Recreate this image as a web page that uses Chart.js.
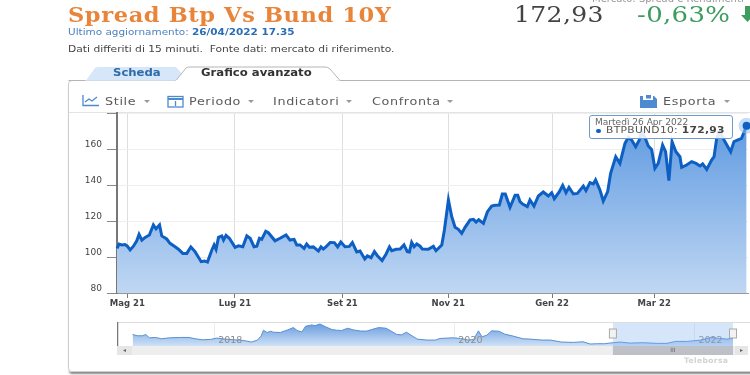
<!DOCTYPE html>
<html lang="it">
<head>
<meta charset="utf-8">
<title>Spread Btp Vs Bund 10Y</title>
<script src="https://cdn.jsdelivr.net/npm/chart.js@4"></script>
<style>
  html, body { margin: 0; padding: 0; background: #fff; }
  #page { position: relative; width: 750px; height: 375px; overflow: hidden; font-family: "DejaVu Sans", sans-serif; filter: blur(0.35px); }
  #page div, #page svg, #page canvas { position: absolute; }
  .t { white-space: nowrap; transform-origin: left center; }
  .tool { top: 95px; font-size: 11px; line-height: 13px; letter-spacing: 0.55px; color: #5a5a5a; transform: scaleX(1.16); }
  .caret { top: 100px; width: 0; height: 0; border-left: 3.5px solid transparent; border-right: 3.5px solid transparent; border-top: 3.5px solid #999; }
</style>
</head>
<body>
<div id="page">
  <div class="t" style="left:68px;top:2px;font:bold 20px/26px 'DejaVu Serif',serif;letter-spacing:0.55px;color:#e8853b;transform:scaleX(1.125)">Spread Btp Vs Bund 10Y</div>
  <div class="t" style="left:68px;top:27px;font-size:9px;line-height:11px;color:#4d82bd;transform:scaleX(1.16)">Ultimo aggiornamento: <b style="color:#2a6db5">26/04/2022 17.35</b></div>
  <div class="t" style="left:68px;top:44px;font-size:9px;line-height:11px;color:#444;transform:scaleX(1.19)">Dati differiti di 15 minuti.&nbsp; Fonte dati: mercato di riferimento.</div>
  <div class="t" style="left:592px;top:-7px;font-size:10px;line-height:12px;color:#999">Mercato: Spread e Rendimenti</div>
  <div class="t" style="left:514px;top:1px;font:22px/28px 'DejaVu Serif',serif;letter-spacing:0.3px;color:#444;transform:scaleX(1.14)">172,93</div>
  <div class="t" style="left:637px;top:1px;font:22px/28px 'DejaVu Serif',serif;letter-spacing:0.3px;color:#3f9c5f;transform:scaleX(1.18)">-0,63%</div>
  <svg style="left:743px;top:6px;overflow:visible" width="12" height="17"><path d="M2 0h5v9h4l-6.5 7L-2 9h4z" fill="#3f9c5f"/></svg>

  <!-- panel and tabs -->
  <div style="left:68px;top:80px;width:700px;height:292px;box-sizing:border-box;border:1px solid #cfcfcf;border-radius:4px;box-shadow:0 3px 2px -1px #8a8a8a"></div>
  <svg style="left:68px;top:64px" width="682" height="18">
    <path d="M18 16.5 L27 4 Q28 3 31 3 L108 3 L120 16.5 Z" fill="#d6e7f9"/>
    <path d="M0.5 16.5 H17 M108 16.5 L118 4 Q119 3 122 3 L257 3 Q260 3 262 5 L272 16.5 H682" fill="#fff" stroke="#b5b5b5"/>
    <rect x="108" y="16" width="160" height="2" fill="#fff"/>
  </svg>
  <div class="t" style="left:113px;top:67px;font-size:9.8px;line-height:12px;font-weight:bold;color:#2d6aa8;transform:scaleX(1.19)">Scheda</div>
  <div class="t" style="left:201px;top:67px;font-size:9.8px;line-height:12px;font-weight:bold;color:#333;transform:scaleX(1.19)">Grafico avanzato</div>

  <!-- toolbar -->
  <svg style="left:82px;top:94px" width="18" height="13" fill="none" stroke="#4d8ad0" stroke-width="1.3"><path d="M1 1v10.5h16M3 8l4-3 3 2 5-4"/></svg>
  <div class="t tool" style="left:105px">Stile</div><div class="caret" style="left:144px"></div>
  <svg style="left:167px;top:94px" width="18" height="14" fill="none" stroke="#4d8ad0" stroke-width="1.3"><rect x="1" y="2.5" width="15" height="10.5"/><path d="M1 5h15" stroke-width="2"/><path d="M8.5 7v5"/></svg>
  <div class="t tool" style="left:189px">Periodo</div><div class="caret" style="left:248px"></div>
  <div class="t tool" style="left:273px">Indicatori</div><div class="caret" style="left:346px"></div>
  <div class="t tool" style="left:372px">Confronta</div><div class="caret" style="left:447px"></div>
  <svg style="left:640px;top:95px" width="17" height="13"><path d="M0 1h3v4h10V1h1l3 3v9H0z" fill="#4d8ad0"/><rect x="6" y="0" width="5" height="3.5" fill="#4d8ad0"/></svg>
  <div class="t tool" style="left:663px">Esporta</div><div class="caret" style="left:724px"></div>
  <div style="left:69px;top:112px;width:681px;height:1px;background:#e4e4e4"></div>

  <canvas id="mainChart" width="750" height="320" style="left:0;top:0"></canvas>
  <canvas id="navChart" width="633" height="37" style="left:117px;top:320px"></canvas>

  <!-- tooltip of the last point -->
  <div style="left:589px;top:115px;width:142px;height:22px;border:1px solid #6c9bd0;border-radius:3px;background:rgba(255,255,255,0.88)"></div>
  <div class="t" style="left:595px;top:117px;font-size:8.3px;line-height:10px;color:#666;transform:scaleX(1.09)">Martedì 26 Apr 2022</div>
  <div style="left:596px;top:129px;width:5px;height:4px;border-radius:3px;background:#0d5fc4"></div>
  <div class="t" style="left:606px;top:125px;font-size:9px;line-height:11px;letter-spacing:0.25px;color:#555;transform:scaleX(1.19)">BTPBUND10: <b style="color:#444">172,93</b></div>

  <div class="t" style="left:684px;top:356px;font-size:7.6px;line-height:10px;font-weight:bold;letter-spacing:0.35px;color:#d2d2d2">Teleborsa</div>
</div>

<script>
// Main chart: days from 1 May 2021 and spread in basis points
const days = [-5.9, -4.7, -3.2, -1.3, 0, 1.6, 3.5, 5.4, 6.7, 8.3, 10.2, 12.6, 14.9, 16.4, 18.4, 19.7, 22.5, 24.4, 27.3, 29.2, 31.7, 34, 36.3, 38.7, 42.2, 44.1, 45.8, 48.3, 49.6, 50.7, 52.1, 54, 55, 56.4, 58.3, 61.6, 63.5, 66, 68.3, 70.2, 72.4, 74, 75.5, 76.8, 79.1, 80.6, 84.4, 87.3, 90.7, 93, 95.3, 96.8, 98.7, 101, 102.5, 104, 106.3, 109.2, 110.7, 112, 113.6, 115.9, 118.3, 120.2, 122, 124.4, 126.9, 128.6, 131.1, 133, 135.7, 137.2, 139.3, 141.2, 142.9, 145.6, 147.9, 149.8, 151.1, 153.6, 155.9, 158.1, 160, 161.2, 162.5, 163.9, 165.4, 167.3, 168.6, 172, 174.9, 176.4, 179.7, 181.2, 183.5, 185.4, 187.3, 189.2, 191.1, 193, 195.9, 197.8, 199.3, 200.8, 203.5, 205.8, 208.2, 210.1, 212.6, 214.3, 216, 218.7, 221.6, 223.1, 224.4, 225.9, 228.6, 230.1, 232.4, 234.9, 237.7, 240.6, 242.5, 244, 246.9, 248.8, 250.7, 252.4, 254.9, 257.2, 260.6, 262.1, 264.4, 266.3, 267.6, 270.1, 272, 274.5, 276.2, 279.1, 281.5, 284.4, 286.3, 288.2, 290.5, 292.6, 293.9, 296.4, 297.7, 299.6, 301.5, 303.4, 305.9, 307.6, 309.5, 311.3, 313.5, 315.8, 316.8, 319.6, 322.5, 325, 327.3, 328.8, 331.1, 333.9, 335.3, 336.8, 338.7, 341, 344.8, 346.7, 351, 353.9];
const spread = [104.8, 107.2, 106.7, 106.9, 106, 103.9, 106, 109, 112.6, 109.4, 110.9, 112.2, 117.8, 115.7, 117.8, 111.7, 110, 107.6, 105.7, 104.3, 102, 102, 105.6, 103, 97.4, 97.8, 97.2, 103.9, 106.7, 104.3, 110.9, 111.7, 109.4, 112, 110.4, 105.4, 106.2, 105.7, 111.7, 110.4, 105.7, 106, 110.4, 109.8, 114.3, 113.5, 109, 110.4, 112.2, 109.4, 109.8, 106.7, 106.7, 104.8, 107.2, 105.4, 105.6, 103.3, 105.6, 104.4, 105.7, 108.1, 108, 105.6, 108.3, 105.7, 105.9, 108, 102.8, 103.3, 98.9, 100.6, 99.6, 103, 100.7, 98, 101.7, 105.6, 103.5, 104.3, 104.4, 106.7, 103, 102.8, 108.1, 105.7, 107.2, 106, 104.4, 104.3, 105.9, 103.5, 106.7, 115, 131.7, 122.4, 116.5, 115.4, 113.1, 116.5, 120.6, 120.9, 119.4, 120.7, 118.7, 125.2, 128.3, 128.7, 128.9, 135, 135, 127.6, 134.3, 134.3, 130.7, 129.4, 128, 131.7, 128.3, 133.9, 136.1, 133.9, 135.7, 132.4, 136.3, 139.8, 135.7, 138.7, 135, 135.3, 139.4, 136.9, 141.3, 140.6, 142.8, 137.2, 131.1, 136.3, 146.5, 155.7, 152, 163.1, 166.5, 165, 161.3, 165, 170.2, 165, 161.7, 159.8, 149.3, 152, 162.2, 158.5, 142.4, 164.1, 158.5, 155.7, 149.8, 151.1, 153, 152, 150.6, 151.7, 148.7, 153.9, 155.7, 165.9, 169.6, 165, 158.5, 164.1, 165.9, 172.93];
const xTickDays = [0, 61.5, 122.9, 183.4, 242.7, 301.1];
const xTickLabels = ["Mag 21", "Lug 21", "Set 21", "Nov 21", "Gen 22", "Mar 22"];
const yTicks = [80, 100, 120, 140, 160, 180];

// Navigator: decimal years and spread on the long range
const navYears = [2017.32, 2017.36, 2017.40, 2017.43, 2017.46, 2017.51, 2017.56, 2017.63, 2017.72, 2017.79, 2017.84, 2017.90, 2017.97, 2018.02, 2018.09, 2018.16, 2018.22, 2018.27, 2018.31, 2018.36, 2018.39, 2018.41, 2018.44, 2018.47, 2018.49, 2018.55, 2018.61, 2018.66, 2018.69, 2018.73, 2018.76, 2018.81, 2018.84, 2018.88, 2018.93, 2018.98, 2019.02, 2019.06, 2019.11, 2019.16, 2019.22, 2019.27, 2019.31, 2019.37, 2019.43, 2019.47, 2019.52, 2019.56, 2019.60, 2019.63, 2019.69, 2019.77, 2019.84, 2019.88, 2019.99, 2020.05, 2020.12, 2020.16, 2020.20, 2020.23, 2020.27, 2020.31, 2020.37, 2020.42, 2020.49, 2020.57, 2020.63, 2020.73, 2020.80, 2020.89, 2020.99, 2021.07, 2021.13, 2021.19, 2021.25, 2021.32, 2021.38, 2021.46, 2021.57, 2021.69, 2021.77, 2021.84, 2021.94, 2022.05, 2022.14, 2022.21, 2022.27, 2022.32];
const navSpread = [231, 210, 210, 231, 176, 182, 160, 176, 182, 182, 160, 143, 149, 171, 154, 143, 138, 121, 105, 138, 204, 303, 264, 286, 270, 264, 308, 347, 297, 275, 369, 391, 380, 407, 358, 314, 303, 297, 336, 308, 289, 289, 314, 347, 336, 292, 231, 226, 270, 231, 154, 138, 138, 165, 176, 165, 138, 149, 292, 193, 220, 292, 286, 237, 204, 160, 154, 138, 138, 105, 99, 110, 72, 77, 77, 94, 105, 88, 94, 83, 83, 116, 116, 138, 182, 165, 154, 171];
const navTicks = [2018, 2020, 2022];
const navSelection = [2021.32, 2022.32];

const lastIndex = days.length - 1;

const mainChart = new Chart(document.getElementById("mainChart"), {
  type: "line",
  data: {
    datasets: [{
      // end point dot, on top of the halo of the line below
      data: [{ x: days[lastIndex], y: spread[lastIndex] }],
      showLine: false,
      clip: false,
      pointRadius: 4,
      pointBorderWidth: 0,
      pointBackgroundColor: "#0d5fc4"
    }, {
      label: "BTPBUND10",
      data: days.map((d, i) => ({ x: d, y: spread[i] })),
      borderColor: "#0d5fc4",
      borderWidth: 3,
      tension: 0,
      clip: false,
      fill: "start",
      backgroundColor: (ctx) => {
        const area = ctx.chart.chartArea;
        if (!area) return "#8fb6e8";
        const g = ctx.chart.ctx.createLinearGradient(0, area.top, 0, area.bottom);
        g.addColorStop(0, "#5a97e0");
        g.addColorStop(1, "#c0d7f3");
        return g;
      },
      pointRadius: (ctx) => ctx.dataIndex === lastIndex ? 8 : 0,
      pointBackgroundColor: "rgba(150,195,240,0.55)",
      pointBorderWidth: 0
    }]
  },
  options: {
    responsive: false,
    animation: false,
    events: [],
    // no room kept for the end point, it may run over the plot edge
    layout: { autoPadding: false, padding: { top: 113, right: 2 } },
    plugins: { legend: { display: false }, tooltip: { enabled: false } },
    scales: {
      x: {
        type: "linear",
        min: -5.9,
        max: 354.7,
        afterFit: (s) => { s.height = 27; s.paddingLeft = 0; s.paddingRight = 0; },
        afterBuildTicks: (s) => { s.ticks = xTickDays.map((v) => ({ value: v })); },
        grid: { color: "#dedede", tickColor: "#777", tickLength: 5 },
        border: { color: "#999", width: 1 },
        ticks: {
          maxRotation: 0,
          autoSkip: false,
          padding: 1,
          color: "#444",
          font: { family: "DejaVu Sans", size: 8.5, weight: "bold" },
          callback: (v) => xTickLabels[xTickDays.indexOf(v)]
        }
      },
      y: {
        min: 80,
        max: 180,
        afterFit: (s) => { s.width = 117; s.paddingTop = 0; s.paddingBottom = 0; },
        afterBuildTicks: (s) => { s.ticks = yTicks.map((v) => ({ value: v })); },
        grid: { color: "#eeeeee", tickColor: "#888", tickLength: 10 },
        border: { color: "#777", width: 2 },
        ticks: {
          padding: 5,
          labelOffset: -4,
          color: "#444",
          font: { family: "DejaVu Sans", size: 9 },
          callback: (v) => v === 180 ? "" : v
        }
      }
    }
  }
});

// draws the selected range, the handles, the year labels and the scrollbar under the navigator
const navFurniture = {
  id: "navFurniture",
  afterDraw(chart) {
    const c = chart.ctx, a = chart.chartArea, s = chart.scales.x;
    const x0 = s.getPixelForValue(navSelection[0]), x1 = s.getPixelForValue(navSelection[1]);
    c.save();
    c.fillStyle = "#8b8b8b";
    c.font = "9.5px 'DejaVu Sans'";
    c.textAlign = "center";
    c.textBaseline = "middle";
    navTicks.forEach((y) => c.fillText(String(y), s.getPixelForValue(y) + 16, a.bottom - 5));
    c.fillStyle = "#eeeeee";
    c.fillRect(0, a.bottom, 631, 9);
    c.fillStyle = "#e6e6e6";
    c.fillRect(0, a.bottom, 15, 9);
    c.fillRect(618, a.bottom, 13, 9);
    c.fillStyle = "#bdc1c7";
    c.fillRect(x0, a.bottom, x1 - x0, 9);
    c.fillStyle = "rgba(130,180,240,0.33)";
    c.fillRect(x0, a.top, x1 - x0, a.bottom - a.top);
    c.fillStyle = "#666";
    c.font = "6px 'DejaVu Sans'";
    c.fillText("◂", 7.5, a.bottom + 4.5);
    c.fillText("▸", 624.5, a.bottom + 4.5);
    c.fillText("III", (x0 + x1) / 2, a.bottom + 4.5);
    c.strokeStyle = "#dddddd";
    c.beginPath();
    c.moveTo(0, a.top + 0.5);
    c.lineTo(633, a.top + 0.5);
    c.stroke();
    c.strokeStyle = "#777";
    c.lineWidth = 1.5;
    c.beginPath();
    c.moveTo(0.5, a.top);
    c.lineTo(0.5, a.bottom);
    c.stroke();
    c.lineWidth = 1;
    c.strokeStyle = "#aaa";
    c.fillStyle = "#f2f2f2";
    [x0, x1].forEach((x) => {
      c.fillRect(x - 3.5, a.top + 7, 7, 9);
      c.strokeRect(x - 3.5, a.top + 7, 7, 9);
    });
    c.restore();
  }
};

const navChart = new Chart(document.getElementById("navChart"), {
  type: "line",
  data: {
    datasets: [{
      data: navYears.map((d, i) => ({ x: d, y: navSpread[i] })),
      borderColor: "#5b8fd1",
      borderWidth: 1,
      tension: 0,
      pointRadius: 0,
      fill: "start",
      backgroundColor: (ctx) => {
        const area = ctx.chart.chartArea;
        if (!area) return "#a8c8ee";
        const g = ctx.chart.ctx.createLinearGradient(0, area.top, 0, area.bottom);
        g.addColorStop(0, "#6097dd");
        g.addColorStop(1, "#cfe1f6");
        return g;
      }
    }]
  },
  options: {
    responsive: false,
    animation: false,
    events: [],
    layout: { autoPadding: false, padding: { top: 2, right: 17, bottom: 11 } },
    plugins: { legend: { display: false }, tooltip: { enabled: false } },
    scales: {
      x: {
        type: "linear",
        min: 2017.19,
        max: 2022.32,
        afterFit: (s) => { s.height = 0; s.paddingLeft = 0; s.paddingRight = 0; },
        afterBuildTicks: (s) => { s.ticks = navTicks.map((v) => ({ value: v })); },
        grid: { color: "#ececec", tickLength: 0 },
        border: { display: false },
        ticks: { display: false }
      },
      y: { display: false, min: 39, max: 440 }
    }
  },
  plugins: [navFurniture]
});
</script>
</body>
</html>
